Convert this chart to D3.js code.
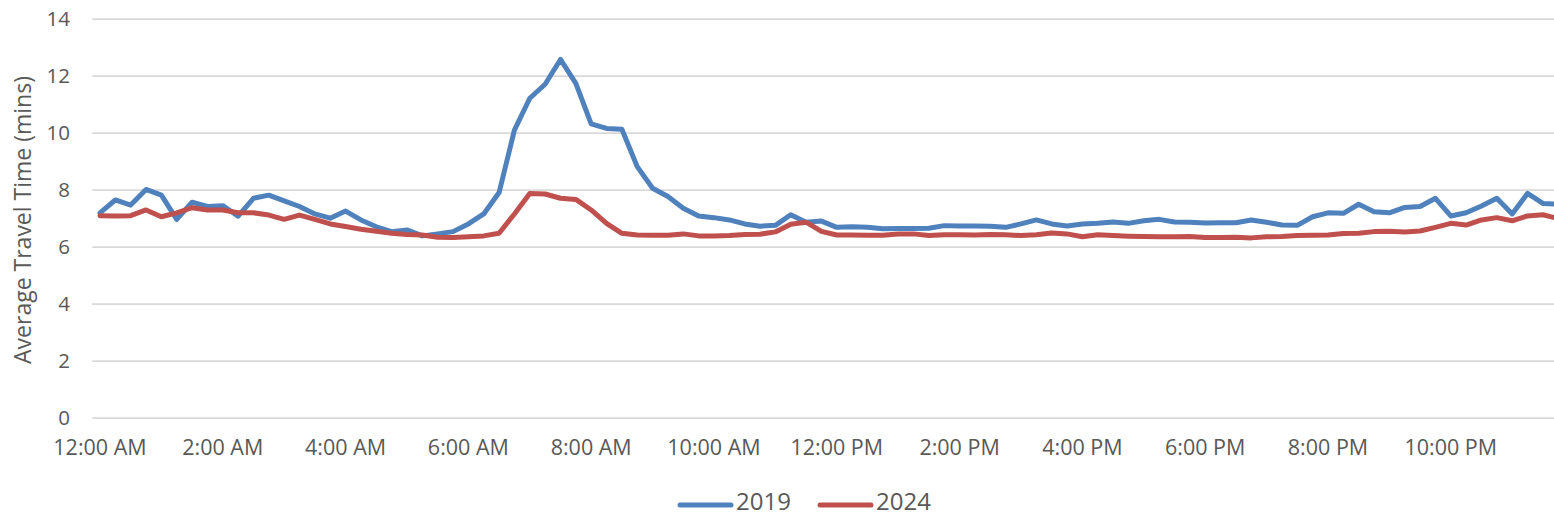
<!DOCTYPE html>
<html>
<head>
<meta charset="utf-8">
<script src="https://cdn.jsdelivr.net/npm/d3@7/dist/d3.min.js"></script>
<style>
  html, body { margin: 0; padding: 0; background: #fff; }
  svg { display: block; }
  text { font-family: "Open Sans", "Noto Sans", sans-serif; fill: #595959; }
</style>
</head>
<body>
<svg id="chart" width="1554" height="518"></svg>
<script>
// ---- data ----
const tickLabels = ["12:00 AM","2:00 AM","4:00 AM","6:00 AM","8:00 AM","10:00 AM",
                    "12:00 PM","2:00 PM","4:00 PM","6:00 PM","8:00 PM","10:00 PM"];
const yTicks = [0, 2, 4, 6, 8, 10, 12, 14];
const seriesNames = ["2019", "2024"];
const seriesColors = ["#4F81BD", "#C0504D"];

const values2019 = [
  7.20, 7.65, 7.47, 8.02, 7.82, 6.97, 7.57, 7.42, 7.45, 7.08, 7.71, 7.82,
  7.62, 7.42, 7.16, 7.01, 7.26, 6.95, 6.71, 6.54, 6.60, 6.39, 6.46, 6.54,
  6.81, 7.16, 7.91, 10.10, 11.22, 11.71, 12.58, 11.74, 10.32, 10.16, 10.13, 8.82,
  8.06, 7.77, 7.36, 7.09, 7.03, 6.95, 6.81, 6.73, 6.76, 7.13, 6.87, 6.91,
  6.69, 6.71, 6.69, 6.64, 6.65, 6.65, 6.66, 6.75, 6.74, 6.74, 6.73, 6.69,
  6.81, 6.95, 6.81, 6.74, 6.81, 6.83, 6.88, 6.83, 6.92, 6.97, 6.88, 6.87,
  6.84, 6.85, 6.85, 6.95, 6.87, 6.77, 6.76, 7.06, 7.20, 7.18, 7.50, 7.24,
  7.20, 7.39, 7.42, 7.71, 7.09, 7.20, 7.44, 7.71, 7.16, 7.88, 7.53, 7.50
];
const values2024 = [
  7.10, 7.09, 7.10, 7.30, 7.06, 7.20, 7.38, 7.30, 7.30, 7.20, 7.20, 7.12,
  6.97, 7.12, 6.97, 6.81, 6.72, 6.62, 6.55, 6.48, 6.44, 6.42, 6.34, 6.33,
  6.36, 6.39, 6.48, 7.16, 7.88, 7.86, 7.71, 7.67, 7.30, 6.83, 6.48, 6.42,
  6.41, 6.41, 6.46, 6.39, 6.39, 6.40, 6.44, 6.45, 6.53, 6.80, 6.87, 6.55,
  6.42, 6.42, 6.41, 6.41, 6.46, 6.46, 6.40, 6.43, 6.43, 6.42, 6.44, 6.43,
  6.40, 6.43, 6.49, 6.46, 6.36, 6.43, 6.40, 6.38, 6.37, 6.36, 6.36, 6.37,
  6.33, 6.33, 6.34, 6.32, 6.36, 6.37, 6.40, 6.41, 6.42, 6.47, 6.48, 6.54,
  6.55, 6.53, 6.56, 6.69, 6.83, 6.77, 6.95, 7.03, 6.92, 7.09, 7.13, 7.00
];

// 15-minute time-of-day categories
const categories = [];
for (let m = 0; m < 24 * 60; m += 15) {
  const h = Math.floor(m / 60), mm = m % 60;
  const h12 = h % 12 === 0 ? 12 : h % 12;
  categories.push(h12 + ":" + String(mm).padStart(2, "0") + (h < 12 ? " AM" : " PM"));
}

// ---- layout ----
const svg = d3.select("#chart");
const plotLeft = 92.3, step = 15.35;
const x = d3.scaleBand().domain(categories)
  .range([plotLeft, plotLeft + step * categories.length]).padding(0);
const y = d3.scaleLinear().domain([0, 14]).range([418, 19]);
const cx = c => x(c) + x.bandwidth() / 2;

// gridlines
svg.append("g").selectAll("line").data(yTicks).join("line")
  .attr("x1", plotLeft).attr("x2", plotLeft + step * categories.length)
  .attr("y1", d => y(d)).attr("y2", d => y(d))
  .attr("stroke", "#d9d9d9").attr("stroke-width", 1.75);

// y axis labels
const yAxis = d3.axisLeft(y).tickValues(yTicks).tickSize(0).tickPadding(0);
const gy = svg.append("g").attr("transform", "translate(70,0)").call(yAxis);
gy.select(".domain").remove();
gy.selectAll("text").attr("font-size", 20.5).attr("fill", "#595959")
  .style("font-family", "'Open Sans', sans-serif").attr("dy", "0.34em");

// x axis labels
const labelCats = tickLabels.map(t => categories.find(c => c === t));
const xAxis = d3.axisBottom(x).tickValues(labelCats).tickSize(0).tickPadding(0);
const gx = svg.append("g").attr("transform", "translate(0,440)").call(xAxis);
gx.select(".domain").remove();
gx.selectAll("text").attr("font-size", 21.5).attr("fill", "#595959")
  .style("font-family", "'Open Sans', sans-serif").attr("dy", "0.71em");

// y title
svg.append("text")
  .attr("transform", "translate(31,220) rotate(-90)")
  .attr("text-anchor", "middle")
  .attr("font-size", 23)
  .text("Average Travel Time (mins)");

// lines
const line = d3.line().x((d, i) => cx(categories[i])).y(d => y(d));
[values2019, values2024].forEach((vals, k) => {
  svg.append("path").datum(vals)
    .attr("d", line)
    .attr("fill", "none")
    .attr("stroke", seriesColors[k])
    .attr("stroke-width", 5)
    .attr("stroke-linejoin", "round")
    .attr("stroke-linecap", "round");
});

// legend
const legendPos = [678, 818];
seriesNames.forEach((name, k) => {
  const g = svg.append("g").attr("transform", `translate(${legendPos[k]},505)`);
  g.append("line").attr("x1", 2).attr("x2", 53).attr("y1", 0).attr("y2", 0)
    .attr("stroke", seriesColors[k]).attr("stroke-width", 5).attr("stroke-linecap", "round");
  g.append("text").attr("x", 58).attr("y", 4.5)
    .attr("font-size", 24).text(name);
});
</script>
</body>
</html>
